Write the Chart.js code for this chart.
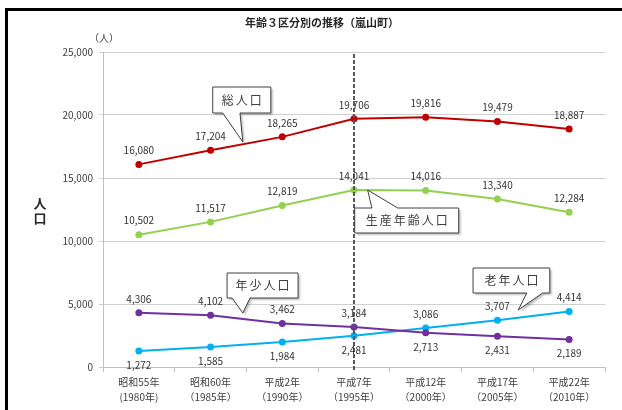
<!DOCTYPE html>
<html>
<head>
<meta charset="utf-8">
<script src="https://cdn.jsdelivr.net/npm/chart.js@4.4.1/dist/chart.umd.min.js"></script>
<style>
  body { margin: 0; background: #fff; }
  #wrap { width: 622px; height: 410px; position: relative; }
</style>
</head>
<body>
<div id="wrap"><canvas id="myChart" width="622" height="410"></canvas></div>
<script>
// categories (two-line labels)
var years = [
  ['昭和55年', '(1980年)'],
  ['昭和60年', '（1985年）'],
  ['平成2年', '（1990年）'],
  ['平成7年', '（1995年）'],
  ['平成12年', '（2000年）'],
  ['平成17年', '（2005年）'],
  ['平成22年', '（2010年）']
];
var total      = [16080, 17204, 18265, 19706, 19816, 19479, 18887];
var working    = [10502, 11517, 12819, 14041, 14016, 13340, 12284];
var young      = [4306, 4102, 3462, 3184, 2713, 2431, 2189];
var elderly    = [1272, 1585, 1984, 2481, 3086, 3707, 4414];
var yTicks     = [0, 5000, 10000, 15000, 20000, 25000];
var chartTitle = '年齢３区分別の推移（嵐山町）';
var markYear   = 3; // dashed line at 平成7年

// callouts: tip + box in (category index, value)
var callouts = [
  { text: '総人口', tip: [1.45, 17860], box: [1.03, 22222, 1.84, 20159], base: [1.17, 1.41], edge: 'bottom' },
  { text: '生産年齢人口', tip: [3.19, 14048], box: [3.01, 12619, 4.46, 10635], base: [3.25, 3.61], edge: 'top' },
  { text: '年少人口', tip: [1.45, 4286], box: [1.23, 7460, 2.22, 5476], base: [1.30, 1.55], edge: 'bottom' },
  { text: '老年人口', tip: [5.29, 4524], box: [4.66, 7857, 5.73, 5873], base: [5.41, 5.63], edge: 'bottom' }
];

var JP = '"Noto Sans CJK JP", "Noto Sans", sans-serif';

function fmt(v) { return v.toLocaleString('en-US'); }

var extras = {
  id: 'extras',
  beforeDraw: function(chart) {
    var c = chart.ctx;
    c.save();
    c.fillStyle = '#fff';
    c.fillRect(0, 0, chart.width, chart.height);
    // frame
    c.fillStyle = '#000';
    c.fillRect(5, 8, chart.width - 5, 3);
    c.fillRect(5, 8, 3, chart.height - 8);
    // title
    c.fillStyle = '#262626';
    c.font = 'bold 11px ' + JP;
    c.textAlign = 'center';
    c.textBaseline = 'middle';
    c.fillText(chartTitle, 322, 23);
    c.font = '10px ' + JP;
    c.fillStyle = '#404040';
    c.fillText('（人）', 104, 38);
    c.font = 'bold 13px ' + JP;
    c.fillStyle = '#262626';
    c.fillText('人', 40, 203);
    c.fillText('口', 40, 218);
    c.restore();
  },
  afterDatasetsDraw: function(chart) {
    var c = chart.ctx, xs = chart.scales.x, ys = chart.scales.y;
    c.save();
    // dashed marker line
    var mx = xs.getPixelForValue(markYear);
    c.strokeStyle = '#595959';
    c.lineWidth = 2;
    c.setLineDash([4, 2]);
    c.beginPath();
    c.moveTo(mx, chart.chartArea.top + 2);
    c.lineTo(mx, chart.chartArea.bottom + 4);
    c.stroke();
    c.setLineDash([]);
    // data labels
    c.font = '10px ' + JP;
    c.fillStyle = '#333';
    c.textAlign = 'center';
    c.textBaseline = 'middle';
    chart.data.datasets.forEach(function(ds, i) {
      var meta = chart.getDatasetMeta(i);
      meta.data.forEach(function(pt, j) {
        var off = ds.labelSide[j] === 'b' ? 14 : -14;
        c.fillText(fmt(ds.data[j]), pt.x, pt.y + off);
      });
    });
    // callouts
    callouts.forEach(function(co) {
      var x1 = xs.getPixelForValue(co.box[0]), y1 = ys.getPixelForValue(co.box[1]);
      var x2 = xs.getPixelForValue(co.box[2]), y2 = ys.getPixelForValue(co.box[3]);
      var tx = xs.getPixelForValue(co.tip[0]), ty = ys.getPixelForValue(co.tip[1]);
      var b1 = xs.getPixelForValue(co.base[0]), b2 = xs.getPixelForValue(co.base[1]);
      c.beginPath();
      c.moveTo(x1, y1);
      if (co.edge === 'top') { c.lineTo(b1, y1); c.lineTo(tx, ty); c.lineTo(b2, y1); }
      c.lineTo(x2, y1);
      c.lineTo(x2, y2);
      if (co.edge === 'bottom') { c.lineTo(b2, y2); c.lineTo(tx, ty); c.lineTo(b1, y2); }
      c.lineTo(x1, y2);
      c.closePath();
      c.shadowColor = 'rgba(0,0,0,0.25)';
      c.shadowOffsetX = 2;
      c.shadowOffsetY = 2;
      c.shadowBlur = 2;
      c.fillStyle = '#fff';
      c.fill();
      c.shadowColor = 'transparent';
      c.strokeStyle = '#404040';
      c.lineWidth = 1;
      c.stroke();
      c.fillStyle = '#404040';
      c.font = '12px ' + JP;
      c.letterSpacing = '2px';
      c.fillText(co.text, (x1 + x2) / 2 + 1, (y1 + y2) / 2);
      c.letterSpacing = '0px';
    });
    c.restore();
  }
};

function series(data, color, side) {
  return {
    data: data,
    borderColor: color,
    backgroundColor: color,
    borderWidth: 2,
    pointRadius: 2.5,
    pointHoverRadius: 2.5,
    tension: 0,
    labelSide: side
  };
}

var ctx = document.getElementById('myChart').getContext('2d');
var myChart = new Chart(ctx, {
  type: 'line',
  data: {
    labels: years,
    datasets: [
      series(total, '#C00000', 'aaaaaaa'),
      series(working, '#92D050', 'aaaaaaa'),
      series(young, '#7030A0', 'aaaabbb'),
      series(elderly, '#00B0F0', 'bbbbaaa')
    ]
  },
  options: {
    responsive: false,
    animation: false,
    layout: { padding: { top: 52, right: 17, left: 0, bottom: 0 } },
    plugins: { legend: { display: false }, tooltip: { enabled: false } },
    scales: {
      x: {
        offset: true,
        afterFit: function(s) { s.height = 43; },
        grid: { offset: true, drawOnChartArea: false, tickLength: 5, color: '#bfbfbf' },
        border: { color: '#bfbfbf' },
        ticks: { color: '#404040', padding: 3, font: { family: JP, size: 10, lineHeight: 1.45 }, maxRotation: 0 }
      },
      y: {
        min: 0,
        max: 25000,
        afterFit: function(s) { s.width = 103; },
        afterBuildTicks: function(s) { s.ticks = yTicks.map(function(v) { return { value: v }; }); },
        grid: { color: '#d0d0d0', tickLength: 4 },
        border: { color: '#bfbfbf' },
        ticks: { color: '#404040', padding: 6, font: { family: JP, size: 10 }, callback: function(v) { return fmt(v); } }
      }
    }
  },
  plugins: [extras]
});
</script>
</body>
</html>
